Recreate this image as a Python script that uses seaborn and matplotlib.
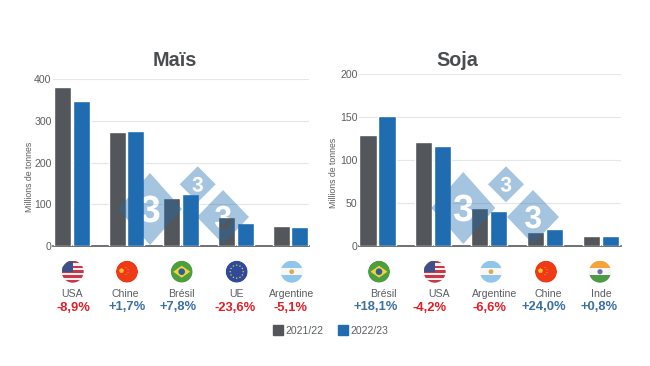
import numpy as np
import pandas as pd
import matplotlib
matplotlib.use("Agg")
import matplotlib.pyplot as plt
import seaborn as sns
from matplotlib.patches import Circle, Polygon, Rectangle, PathPatch, RegularPolygon
from matplotlib.path import Path
from matplotlib.textpath import TextPath
from matplotlib.font_manager import FontProperties
from matplotlib.lines import Line2D

seasons = ["2021/22", "2022/23"]
mais_countries = ["USA", "Chine", "Brésil", "UE", "Argentine"]
mais_2122 = [382, 273, 116, 70, 49]
mais_2223 = [348, 277, 125, 54, 46]
mais_changes = ["-8,9%", "+1,7%", "+7,8%", "-23,6%", "-5,1%"]
soja_countries = ["Brésil", "USA", "Argentine", "Chine", "Inde"]
soja_2122 = [129, 121, 44, 16, 12]
soja_2223 = [152, 116, 41, 20, 12]
soja_changes = ["+18,1%", "-4,2%", "-6,6%", "+24,0%", "+0,8%"]

GREY, BLUE = "#53565a", "#1f6cb0"
TXT = "#5a5d60"
RED, POS = "#e01f26", "#3a6f9f"
W, H = 650, 366

sns.set_theme(style="white")
plt.rcParams["font.family"] = ["Liberation Sans", "DejaVu Sans"]
fig = plt.figure(figsize=(W / 100, H / 100), dpi=100, facecolor="white")


def long_table(countries, a, b):
    return pd.DataFrame({
        "pays": countries * 2,
        "saison": [seasons[0]] * 5 + [seasons[1]] * 5,
        "valeur": list(a) + list(b),
    })


def panel(box, df, ymax, step, xlim, title, title_x, label_xy):
    l, t, r, b = box
    ax = fig.add_axes([l / W, (H - b) / H, (r - l) / W, (b - t) / H])
    sns.barplot(data=df, x="pays", y="valeur", hue="saison", hue_order=seasons,
                palette=[GREY, BLUE], width=0.68, gap=0.09, saturation=1,
                legend=False, ax=ax, zorder=3)
    ax.set_xlim(*xlim)
    ax.set_ylim(0, ymax)
    ax.set_yticks(np.arange(0, ymax + 1, step))
    ax.set_xticks([])
    ax.set_xlabel("")
    ax.set_ylabel("Millions de tonnes", fontsize=6.3, color=TXT)
    ax.yaxis.set_label_coords(label_xy[0] / W, (H - label_xy[1]) / H, transform=fig.transFigure)
    ax.tick_params(axis="y", length=0, pad=1, labelsize=7.6, labelcolor=TXT)
    ax.grid(axis="y", color="#e6e6e6", lw=0.8, zorder=0)
    ax.set_axisbelow(True)
    for s in ("top", "left", "right"):
        ax.spines[s].set_visible(False)
    ax.spines["bottom"].set_color("#55585b")
    ax.spines["bottom"].set_linewidth(1.2)
    fig.text(title_x / W, (H - 60.5) / H, title, ha="center", va="center",
             fontsize=14.2, fontweight="bold", color="#4a4d50")
    return ax


panel((53, 79.3, 309, 246), long_table(mais_countries, mais_2122, mais_2223), 400, 100,
      (-0.345, 4.34), "Maïs", 175, (34, 176.5))
panel((359, 74.3, 621, 246), long_table(soja_countries, soja_2122, soja_2223), 200, 50,
      (-0.33, 4.36), "Soja", 457, (338, 173))

# overlay in pixel coordinates (y measured upward) for watermark, flags and captions
ov = fig.add_axes([0, 0, 1, 1], zorder=10)
ov.set_xlim(0, W)
ov.set_ylim(0, H)
ov.axis("off")
ov.patch.set_alpha(0)


def Y(y):
    return H - y


def diamond(cx, cy, hx, hy, size):
    cy = Y(cy)
    verts = [(cx, cy - hy), (cx + hx, cy), (cx, cy + hy), (cx - hx, cy), (cx, cy - hy)]
    codes = [Path.MOVETO, Path.LINETO, Path.LINETO, Path.LINETO, Path.CLOSEPOLY]
    fp = FontProperties(family="Liberation Sans", weight="bold")
    tp = TextPath((0, 0), "3", size=size, prop=fp)
    bb = tp.get_extents()
    tv = tp.vertices - [(bb.x0 + bb.x1) / 2, (bb.y0 + bb.y1) / 2] + [cx, cy]
    path = Path(np.vstack([verts, tv]), codes + list(tp.codes))
    ov.add_patch(PathPatch(path, fc=BLUE, ec="none", alpha=0.4, zorder=2))


for c in [(150, 209, 32, 36, 38), (197.7, 184.3, 18, 18, 21), (223, 217, 26, 27, 32),
          (463.3, 208, 32, 36, 38), (506, 184.3, 18, 18, 21), (533, 217, 26, 27, 32)]:
    diamond(*c)

R = 11


def clip_group(cx, cy):
    return Circle((cx, cy), R, transform=ov.transData)


def stripes(cx, cy, cols):
    n = len(cols)
    arts = []
    for i, col in enumerate(cols):
        arts.append(ov.add_patch(Rectangle((cx - R, cy + R - (i + 1) * 2 * R / n), 2 * R, 2 * R / n,
                                           fc=col, ec="none", zorder=3)))
    return arts


def flag(name, cx, y):
    cy = Y(y)
    arts = []
    if name == "USA":
        arts += stripes(cx, cy, ["#c8374a", "#f3f0f0"] * 4 + ["#c8374a"])
        arts.append(ov.add_patch(Rectangle((cx - R, cy), R, R, fc="#3f4f88", ec="none", zorder=4)))
    elif name == "Chine":
        arts.append(ov.add_patch(Circle((cx, cy), R, fc="#ee3a16", ec="none", zorder=3)))
        ov.add_patch(RegularPolygon((cx - 5.5, cy + 1), 5, radius=2.6, fc="#f7c52b", ec="none", zorder=4))
        for dx, dy in [(-1, 4), (1, 2), (1, -1), (-1, -3)]:
            ov.add_patch(Circle((cx + dx, cy + dy), 0.5, fc="#f7c52b", ec="none", zorder=4))
    elif name == "Brésil":
        arts.append(ov.add_patch(Circle((cx, cy), R, fc="#4c9e3f", ec="none", zorder=3)))
        ov.add_patch(Polygon([(cx - 8.5, cy), (cx, cy + 6), (cx + 8.5, cy), (cx, cy - 6)],
                             fc="#f3d23a", ec="none", zorder=4))
        ov.add_patch(Circle((cx, cy), 3.3, fc="#2c5f9e", ec="none", zorder=5))
    elif name == "UE":
        arts.append(ov.add_patch(Circle((cx, cy), R, fc="#2f4a9a", ec="none", zorder=3)))
        for a in np.arange(0, 360, 30):
            ov.add_patch(Circle((cx + 6.5 * np.cos(np.radians(a)), cy + 6.5 * np.sin(np.radians(a))),
                                0.7, fc="#e8d44a", ec="none", zorder=4))
    elif name == "Argentine":
        arts += stripes(cx, cy, ["#8fc6ea", "#f7f7f7", "#8fc6ea"])
        ov.add_patch(Circle((cx, cy), 2.4, fc="#e0a94a", ec="none", zorder=5))
    elif name == "Inde":
        arts += stripes(cx, cy, ["#f5a43a", "#f7f7f7", "#4f9a45"])
        ov.add_patch(Circle((cx, cy), 2.6, fc="#6d6fa8", ec="none", zorder=5))
    for a in arts:
        a.set_clip_path(clip_group(cx, cy))


def captions(countries, changes, flag_x, name_x, pct_x):
    for i, c in enumerate(countries):
        flag(c, flag_x[i], 271.7)
        ov.text(name_x[i], Y(294), c, ha="center", va="center", fontsize=7.6, color=TXT, zorder=6)
        pos = changes[i].startswith("+")
        ov.text(pct_x[i], Y(306.7 if pos else 308.3), changes[i], ha="center", va="center",
                fontsize=9.4, fontweight="bold", color=POS if pos else RED, zorder=6)


captions(mais_countries, mais_changes,
         [72.7, 127, 181.7, 236.7, 291.7],
         [72.3, 125.7, 181.7, 236.7, 292],
         [73.3, 126.7, 178, 235, 290.7])
captions(soja_countries, soja_changes,
         [379, 434.7, 491, 546, 600],
         [383, 439, 495, 548.7, 601.7],
         [375.7, 430, 489.7, 544, 599])

# legend
handles = [Line2D([], [], ls="none", marker="s", ms=6.6, color=GREY),
           Line2D([], [], ls="none", marker="s", ms=6.6, color=BLUE)]
leg = fig.legend(handles, seasons, ncol=2, loc="center", bbox_to_anchor=(330 / W, (H - 330.5) / H),
                 frameon=False, fontsize=7.5, labelcolor=TXT, handletextpad=0.1,
                 columnspacing=1.3, handlelength=1.2, borderpad=0)
fig.savefig("out.png", dpi=100, facecolor="white")
